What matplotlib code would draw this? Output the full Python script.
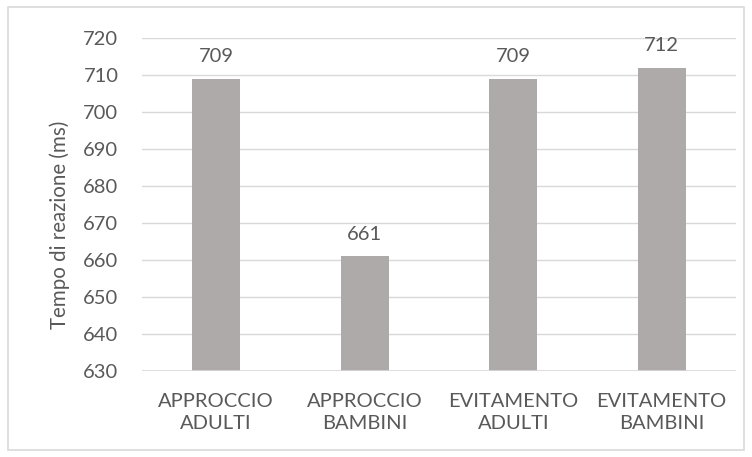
import matplotlib.pyplot as plt
from matplotlib.patches import Rectangle

categories = ['APPROCCIO\nADULTI', 'APPROCCIO\nBAMBINI', 'EVITAMENTO\nADULTI', 'EVITAMENTO\nBAMBINI']
values = [709, 661, 709, 712]
yticks = list(range(630, 721, 10))

plt.rcParams['font.family'] = ['Lato', 'DejaVu Sans']
txt = '#595959'

fig = plt.figure(figsize=(7.52, 4.57), dpi=100)
ax = fig.add_axes([142/752, 1-371/457, 594/752, 333/457])

x = range(len(values))
ax.bar(x, values, width=0.32, color='#AEAAAA', zorder=2)
ax.set_ylim(630, 720)
ax.set_xlim(-0.5, len(values) - 0.5)
ax.set_yticks(yticks)
ax.set_xticks(list(x))
ax.set_xticklabels(categories, fontsize=14.5, color=txt, linespacing=1.35)
ax.tick_params(axis='y', labelsize=14.5, colors=txt, length=0, pad=17)
ax.tick_params(axis='x', length=0, pad=16)
ax.grid(axis='y', color='#D9D9D9', lw=1, zorder=0)
for s in ax.spines.values():
    s.set_visible(False)
ax.axhline(630, color='#D9D9D9', lw=1.2, zorder=3)
ax.set_ylabel('Tempo di reazione (ms)', fontsize=14.8, color=txt, va='center')
ax.yaxis.set_label_coords(-0.138, 0.44)

for i, v in enumerate(values):
    ax.annotate(str(v), (i, v), xytext=(0, 12), textcoords='offset points',
                ha='center', va='baseline', fontsize=14.5, color=txt)

fig.patches.append(Rectangle((8/752, 7/457), 736/752, 443/457, transform=fig.transFigure,
                             fill=False, edgecolor='#D9D9D9', lw=1.2))

fig.savefig('out.png', dpi=100)
